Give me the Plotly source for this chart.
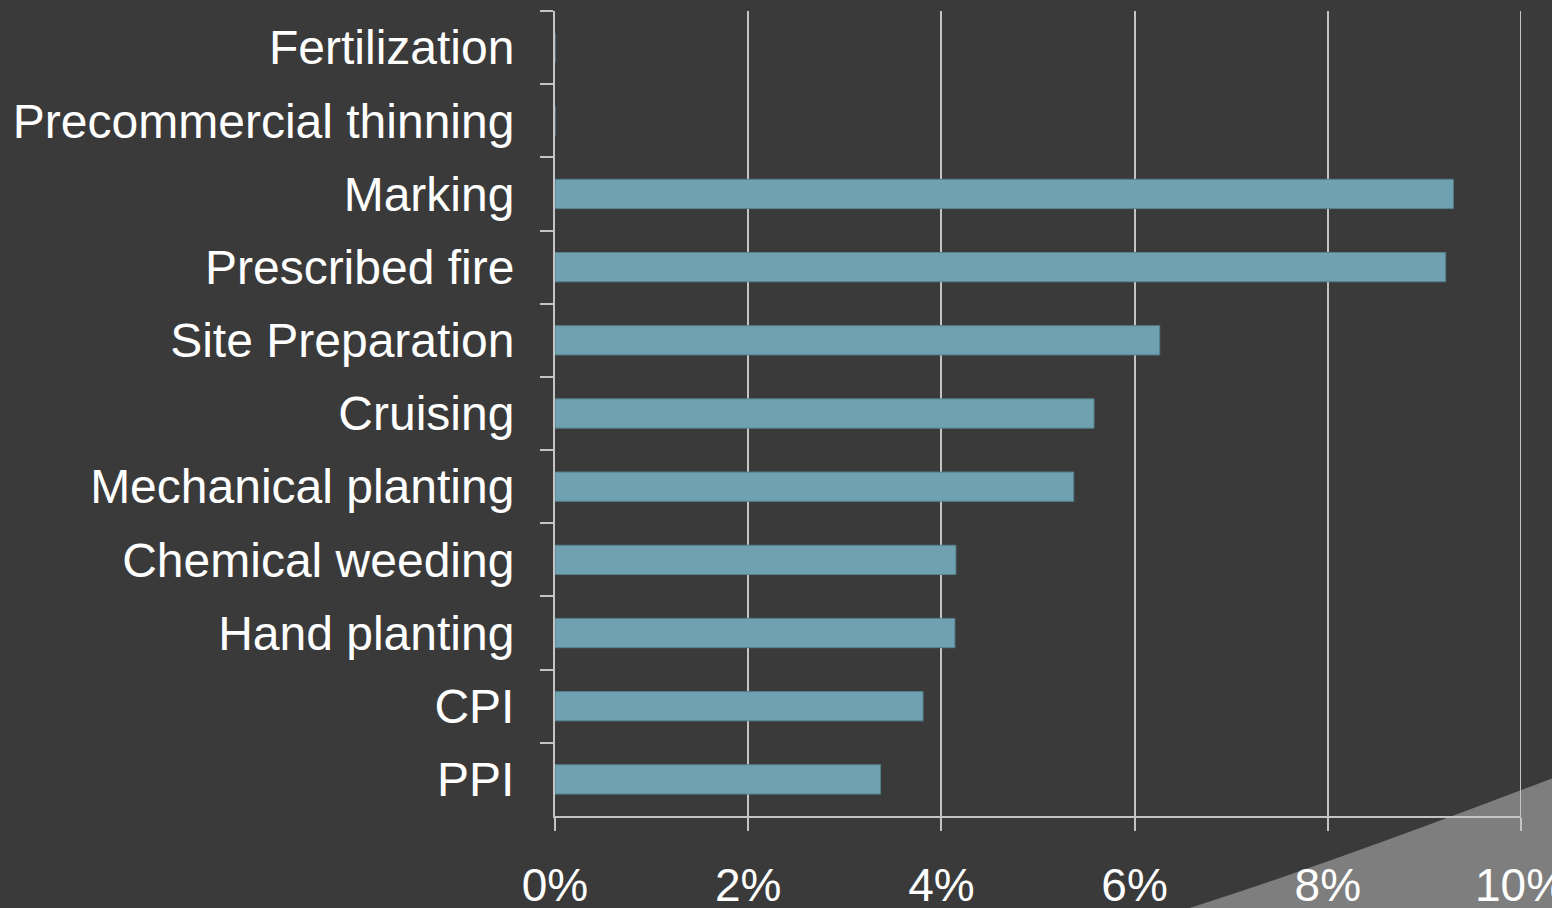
"""Horizontal bar chart of annual cost increases by forestry activity."""

import plotly.graph_objects as go

ACTIVITIES = [
    "Fertilization",
    "Precommercial thinning",
    "Marking",
    "Prescribed fire",
    "Site Preparation",
    "Cruising",
    "Mechanical planting",
    "Chemical weeding",
    "Hand planting",
    "CPI",
    "PPI",
]
RATE_PCT = [0.0, 0.0, 9.30, 9.22, 6.26, 5.58, 5.37, 4.15, 4.14, 3.81, 3.37]
X_TICKS = [0, 2, 4, 6, 8, 10]
X_TICK_LABELS = [f"{v}%" for v in X_TICKS]

BG = "#3a3a3a"
BAR = "#6fa1b0"
LINE = "#c4c4c4"
FONT = "Liberation Sans, Arial, sans-serif"

fig = go.Figure(
    go.Bar(
        x=RATE_PCT,
        y=ACTIVITIES,
        orientation="h",
        width=0.4,
        marker={"color": BAR, "line": {"color": "#55808e", "width": 1}},
        hovertemplate="%{y}: %{x:.2f}%<extra></extra>",
    )
)

# decorative swoosh in the lower-right corner, behind the plot
fig.add_shape(
    type="path",
    xref="paper",
    yref="paper",
    path="M 0.655,-0.115 Q 0.80,-0.06 1.035,0.048 L 1.035,-0.115 Z",
    fillcolor="#7e7e7e",
    line={"width": 0},
    layer="below",
)
# plotly skips the gridline sitting on the range edge, so draw the last one
fig.add_vline(x=X_TICKS[-1], line={"color": LINE, "width": 2}, layer="below")

fig.update_xaxes(
    range=[X_TICKS[0], X_TICKS[-1]],
    tickvals=X_TICKS,
    ticktext=X_TICK_LABELS,
    showgrid=True,
    gridcolor=LINE,
    gridwidth=2,
    zeroline=False,
    showline=True,
    linecolor=LINE,
    linewidth=2,
    ticks="outside",
    ticklen=13,
    tickwidth=2,
    tickcolor=LINE,
    tickfont={"size": 46, "color": "white", "family": FONT},
    ticklabelstandoff=15,
    ticklabeloverflow="allow",
    automargin=False,
)
fig.update_yaxes(
    autorange="reversed",
    tickson="boundaries",
    showgrid=False,
    showline=True,
    linecolor=LINE,
    linewidth=2,
    ticks="outside",
    ticklen=13,
    tickwidth=2,
    tickcolor=LINE,
    tickfont={"size": 48, "color": "white", "family": FONT},
    ticklabelstandoff=29,
    automargin=False,
)
fig.update_layout(
    width=1552,
    height=908,
    paper_bgcolor=BG,
    plot_bgcolor="rgba(0,0,0,0)",
    showlegend=False,
    bargap=0.6,
    margin={"l": 555, "r": 31, "t": 11, "b": 92},
    font={"family": FONT, "color": "white"},
)

fig.write_html(
    "out.html",
    config={"displayModeBar": False},
    post_script="document.body.style.margin='0';document.body.style.background='#3a3a3a';",
)
